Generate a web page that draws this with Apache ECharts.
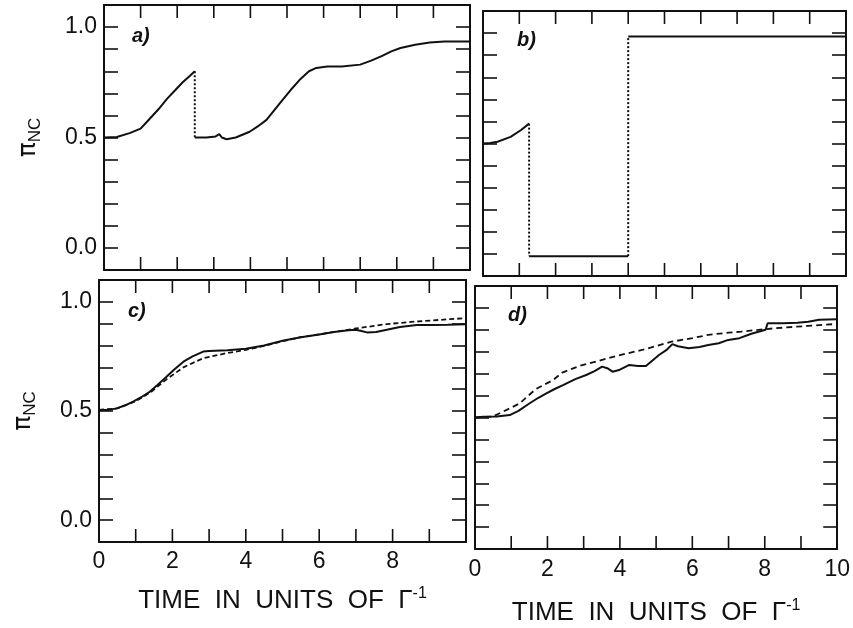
<!DOCTYPE html>
<html><head><meta charset="utf-8">
<script src="https://cdn.jsdelivr.net/npm/echarts@6/dist/echarts.min.js"></script>
<style>html,body{margin:0;padding:0;background:#fff}#c{width:853px;height:628px}</style>
</head><body><div id="c"></div>
<script>
// ---- data ----
const panelLabels = ['a)', 'b)', 'c)', 'd)'];
const yTickLabels = ['0.0', '0.5', '1.0'];
const xTickLabels = ['0', '2', '4', '6', '8', '10'];
const xTickValues = [1, 2, 3, 4, 5, 6, 7, 8, 9];
const xTitle = 'TIME  IN  UNITS  OF  Γ';

// panel a: solid before the jump, dotted jump, solid after
const aTime1 = [0, 0.35, 0.7, 1.0, 1.25, 1.5, 1.72, 1.95, 2.15, 2.35, 2.48];
const aPi1   = [0.5, 0.502, 0.52, 0.54, 0.585, 0.63, 0.675, 0.715, 0.75, 0.78, 0.80];
const aTime2 = [2.48, 2.8, 3.05, 3.15, 3.22, 3.35, 3.6, 3.98, 4.2, 4.44, 4.66, 4.88, 5.1, 5.34, 5.6, 5.8, 6.1, 6.5, 7.0, 7.3, 7.6, 7.85, 8.1, 8.5, 8.9, 9.3, 9.7, 10];
const aPi2   = [0.50, 0.50, 0.505, 0.515, 0.50, 0.492, 0.50, 0.526, 0.55, 0.58, 0.625, 0.67, 0.715, 0.76, 0.80, 0.815, 0.822, 0.822, 0.83, 0.848, 0.87, 0.89, 0.905, 0.92, 0.93, 0.935, 0.935, 0.935];

// panel b
const bTime1 = [0, 0.2, 0.4, 0.76, 1.04, 1.27];
const bPi1   = [0.5, 0.502, 0.508, 0.53, 0.56, 0.59];
const bTimeLow = [1.27, 4.0];
const bPiLow   = [-0.01, -0.01];
const bTimeHigh = [4.0, 10];
const bPiHigh   = [0.985, 0.985];

// panel c
const cTimeSolid = [0, 0.25, 0.48, 0.7, 0.93, 1.15, 1.39, 1.6, 1.84, 2.05, 2.3, 2.55, 2.84, 3.0, 3.5, 4.0, 4.5, 5.0, 5.5, 6.0, 6.4, 6.8, 7.0, 7.15, 7.3, 7.55, 7.84, 8.2, 8.66, 9.1, 9.5, 10];
const cPiSolid   = [0.505, 0.505, 0.512, 0.525, 0.543, 0.563, 0.589, 0.62, 0.657, 0.69, 0.726, 0.75, 0.772, 0.775, 0.778, 0.785, 0.80, 0.822, 0.838, 0.85, 0.862, 0.87, 0.872, 0.866, 0.86, 0.862, 0.872, 0.885, 0.894, 0.894, 0.895, 0.897];
const cTimeDash = [0, 0.5, 1.0, 1.4, 1.84, 2.3, 2.84, 3.48, 4.0, 4.5, 5.0, 5.5, 6.0, 6.4, 7.0, 7.5, 7.84, 8.5, 9.1, 9.5, 10];
const cPiDash   = [0.505, 0.512, 0.545, 0.585, 0.645, 0.70, 0.742, 0.765, 0.78, 0.798, 0.82, 0.838, 0.851, 0.862, 0.878, 0.89, 0.898, 0.908, 0.915, 0.92, 0.925];

// panel d
const dTimeSolid = [0, 0.23, 0.6, 0.96, 1.2, 1.51, 1.75, 1.97, 2.2, 2.43, 2.77, 3.07, 3.3, 3.51, 3.65, 3.8, 4.0, 4.26, 4.5, 4.72, 4.9, 5.08, 5.3, 5.45, 5.6, 5.9, 6.2, 6.44, 6.73, 6.99, 7.3, 7.63, 7.85, 8.02, 8.08, 8.5, 8.9, 9.2, 9.5, 10];
const dPiSolid   = [0.50, 0.503, 0.505, 0.511, 0.53, 0.565, 0.59, 0.61, 0.63, 0.648, 0.675, 0.694, 0.712, 0.732, 0.725, 0.709, 0.718, 0.74, 0.735, 0.735, 0.76, 0.785, 0.81, 0.835, 0.825, 0.816, 0.822, 0.831, 0.839, 0.854, 0.862, 0.882, 0.892, 0.90, 0.93, 0.93, 0.932, 0.937, 0.946, 0.948];
const dTimeDash = [0, 0.5, 0.78, 1.0, 1.24, 1.68, 2.15, 2.41, 2.88, 3.51, 4.0, 4.61, 5.0, 5.43, 6.0, 6.44, 7.0, 7.35, 8.0, 8.27, 9.18, 10];
const dPiDash   = [0.50, 0.505, 0.527, 0.545, 0.565, 0.63, 0.67, 0.705, 0.735, 0.763, 0.785, 0.808, 0.826, 0.846, 0.862, 0.877, 0.887, 0.892, 0.903, 0.907, 0.918, 0.927];

// ---- chart ----
const FONT = '"Liberation Sans", Arial, sans-serif';
const INK = '#111';
const Y_MIN = -0.1, Y_MAX = 1.1, TICK_PX = 13;
const zip = (xs, ys) => xs.map((x, i) => [x, ys[i]]);
const seg = (x0, y0, x1, y1) => [[x0, y0], [x1, y1]];

const grids = [
  {left: 104, top: 5, width: 366, height: 265},
  {left: 483, top: 11, width: 363, height: 265},
  {left: 99, top: 280, width: 367, height: 262},
  {left: 475, top: 286, width: 364, height: 263}
];

const AXLINE = {show: true, onZero: false, lineStyle: {color: INK, width: 2}};
const xAxes = [], yAxes = [];
grids.forEach((g, i) => {
  const showX = i >= 2;
  const showY = i % 2 === 0;
  const xBase = {
    type: 'value', min: 0, max: 10, interval: 1, gridIndex: i,
    axisLine: AXLINE, splitLine: {show: false},
    axisTick: {show: false}
  };
  xAxes.push(Object.assign({}, xBase, {
    position: 'bottom',
    axisLabel: {
      show: showX, margin: i === 2 ? 8 : 9, fontSize: 23, color: INK, fontFamily: FONT,
      formatter: v => {
        const r = Math.round(v);
        if (r % 2 !== 0) return '';
        if (i === 2 && r === 10) return '';
        return xTickLabels[r / 2];
      }
    },
    name: showX ? '{t|' + xTitle + '}{s|-1}' : '',
    nameLocation: 'middle', nameGap: i === 2 ? 44 : 49,
    nameTextStyle: {
      rich: {
        t: {fontSize: 26, color: INK, fontFamily: FONT, lineHeight: 30},
        s: {fontSize: 16, color: INK, fontFamily: FONT, lineHeight: 16, verticalAlign: 'top'}
      }
    }
  }));
  xAxes.push(Object.assign({}, xBase, {position: 'top', axisLabel: {show: false}}));

  const yBase = {
    type: 'value', min: Y_MIN, max: Y_MAX, interval: 0.1, gridIndex: i,
    axisLine: AXLINE, splitLine: {show: false},
    axisTick: {show: true, inside: true, length: 14, lineStyle: {color: INK, width: 1.6}}
  };
  yAxes.push(Object.assign({}, yBase, {
    position: 'left',
    axisLabel: {
      show: showY, margin: 7, fontSize: 23, color: INK, fontFamily: FONT,
      formatter: v => {
        const r = Math.round(v * 10);
        if (r === 0) return yTickLabels[0];
        if (r === 5) return yTickLabels[1];
        if (r === 10) return yTickLabels[2];
        return '';
      }
    },
    name: showY ? '{p|π}{s|NC}' : '',
    nameLocation: 'middle', nameRotate: 90, nameGap: 60,
    nameTextStyle: {
      rich: {
        p: {fontSize: 25, color: INK, fontFamily: '"DejaVu Sans", sans-serif', lineHeight: 32},
        s: {fontSize: 17, color: INK, fontFamily: FONT, lineHeight: 17, verticalAlign: 'bottom'}
      }
    }
  }));
  yAxes.push(Object.assign({}, yBase, {position: 'right', axisLabel: {show: false}}));
});

function line(gi, data, type, width) {
  return {
    type: 'line', xAxisIndex: 2 * gi, yAxisIndex: 2 * gi, data: data,
    showSymbol: false, symbol: 'none', smooth: false, silent: true, clip: false,
    lineStyle: {color: INK, width: width || 2, type: type || 'solid'}
  };
}

const series = [
  line(0, zip(aTime1, aPi1)),
  line(0, seg(aTime1[aTime1.length - 1], aPi1[aPi1.length - 1], aTime2[0], aPi2[0]), 'dotted', 2),
  line(0, zip(aTime2, aPi2)),

  line(1, zip(bTime1, bPi1)),
  line(1, seg(bTime1[bTime1.length - 1], bPi1[bPi1.length - 1], bTimeLow[0], bPiLow[0]), 'dotted', 2),
  line(1, zip(bTimeLow, bPiLow)),
  line(1, seg(bTimeLow[1], bPiLow[1], bTimeHigh[0], bPiHigh[0]), 'dotted', 2),
  line(1, zip(bTimeHigh, bPiHigh)),

  line(2, zip(cTimeSolid, cPiSolid)),
  line(2, zip(cTimeDash, cPiDash), [5, 3], 1.8),

  line(3, zip(dTimeSolid, dPiSolid)),
  line(3, zip(dTimeDash, dPiDash), [6, 4], 1.8)
];

// inward x-axis tick marks on the bottom and top frame of every panel,
// placed in data space through each panel's own axes
grids.forEach((g, gi) => {
  const d = TICK_PX * (Y_MAX - Y_MIN) / g.height;
  xTickValues.forEach(v => {
    series.push(line(gi, seg(v, Y_MIN, v, Y_MIN + d), 'solid', 1.6));
    series.push(line(gi, seg(v, Y_MAX, v, Y_MAX - d), 'solid', 1.6));
  });
});

const labelPos = [[132, 26], [517, 30], [128, 301], [508, 305]];
const graphic = panelLabels.map((t, i) => ({
  type: 'text', left: labelPos[i][0], top: labelPos[i][1],
  style: {text: t, fill: INK, font: 'italic bold 20px ' + FONT}
}));

const chart = echarts.init(document.getElementById('c'), null, {renderer: 'canvas'});
chart.setOption({
  backgroundColor: '#fff',
  animation: false,
  grid: grids.map(g => Object.assign({show: false, containLabel: false}, g)),
  xAxis: xAxes,
  yAxis: yAxes,
  series: series,
  graphic: graphic
});
</script>
</body></html>
